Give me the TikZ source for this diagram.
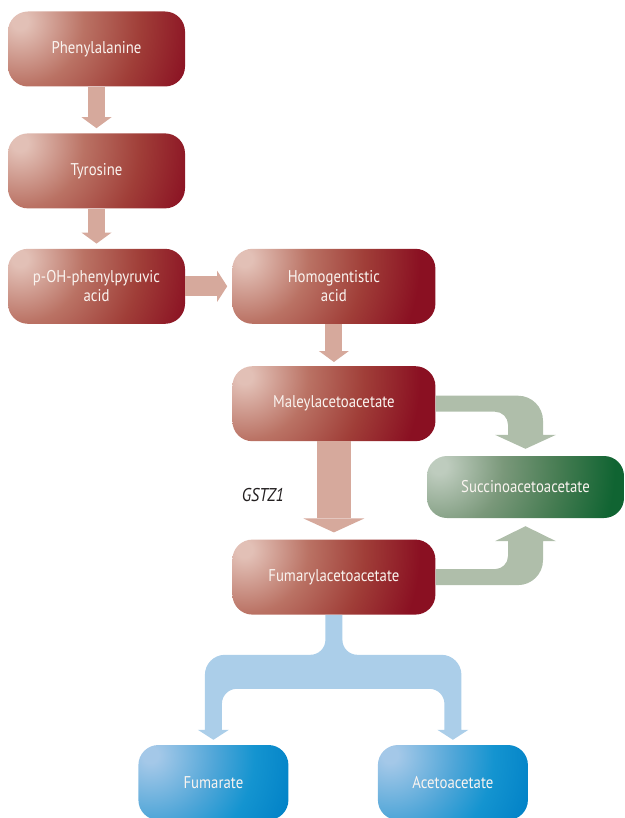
\documentclass[tikz,border=0pt]{standalone}
\usepackage{fontspec}
\setmainfont{PT Sans}[FakeStretch=0.87]
\usetikzlibrary{positioning,calc,arrows.meta}

\definecolor{redlight}{RGB}{226,192,182}
\definecolor{redmid}{RGB}{186,114,100}
\definecolor{redmore}{RGB}{160,62,56}
\definecolor{reddark}{RGB}{138,16,34}
\definecolor{greenlight}{RGB}{190,204,190}
\definecolor{greenmid}{RGB}{122,152,122}
\definecolor{greenmore}{RGB}{70,124,82}
\definecolor{greendark}{RGB}{16,100,50}
\definecolor{bluelight}{RGB}{164,200,232}
\definecolor{bluemid}{RGB}{80,166,216}
\definecolor{bluemore}{RGB}{20,148,208}
\definecolor{bluedark}{RGB}{0,128,198}
\definecolor{arrowred}{RGB}{214,169,156}
\definecolor{arrowgreen}{RGB}{175,190,170}
\definecolor{arrowblue}{RGB}{171,206,233}
\definecolor{boxtext}{RGB}{250,244,240}
\definecolor{enzymetext}{RGB}{35,31,32}

\pgfdeclareradialshading{redshade}{\pgfpoint{0bp}{0bp}}{color(0bp)=(redlight); color(1bp)=(redlight); color(8bp)=(redmid); color(15bp)=(redmore); color(22bp)=(reddark); color(50bp)=(reddark)}
\pgfdeclareradialshading{greenshade}{\pgfpoint{0bp}{0bp}}{color(0bp)=(greenlight); color(1bp)=(greenlight); color(8bp)=(greenmid); color(15bp)=(greenmore); color(22bp)=(greendark); color(50bp)=(greendark)}
\pgfdeclareradialshading{blueshade}{\pgfpoint{0bp}{0bp}}{color(0bp)=(bluelight); color(1bp)=(bluelight); color(8bp)=(bluemid); color(13bp)=(bluemore); color(19bp)=(bluedark); color(50bp)=(bluedark)}

\tikzset{
  glow/.style={path picture={\shade[shading=#1] ($(path picture bounding box.north west)+(12pt,-10pt)$) circle[radius=200pt];}},
  redbox/.style={rectangle, rounded corners=20pt, glow=redshade, minimum width=177pt, minimum height=75pt,
    inner sep=0pt, align=center, text=boxtext, font=\fontsize{17}{19}\selectfont},
  widebox/.style={redbox, minimum width=203pt},
  greenbox/.style={redbox, glow=greenshade, minimum width=197pt, minimum height=62pt},
  bluebox/.style={redbox, glow=blueshade, minimum width=150pt},
  enzyme/.style={text=enzymetext, font=\fontsize{18.5}{20}\selectfont\itshape},
  redarrow/.style={draw=arrowred, line width=17pt, -{Triangle[width=30pt,length=11pt,line width=0pt]}, shorten >=5pt},
  greenarrow/.style={fill=arrowgreen},
  bluearrow/.style={fill=arrowblue}
}

\begin{document}
\begin{tikzpicture}[x=1pt,y=1pt]
        \useasboundingbox (0,0) rectangle (624,-818);
        \node(phe) [redbox] at (96.5,-49) {Phenylalanine};
        \node(tyr) [redbox, below=46.5pt of phe] {Tyrosine};
        \node(poh) [redbox, below=40pt of tyr] {p-OH-phenylpyruvic\\acid};
        \node(hga) [widebox, right=47pt of poh] {Homogentistic\\acid};
        \node(mal) [widebox, below=42pt of hga] {Maleylacetoacetate};
        \node(fum) [widebox, below=98pt of mal] {Fumarylacetoacetate};
        \node(suc) [greenbox] at (525.5,-487) {Succinoacetoacetate};
        \node(fma) [bluebox, below=130pt of fum, xshift=-120.5pt] {Fumarate};
        \node(ace) [bluebox, below=130pt of fum, xshift=119pt] {Acetoacetate};
        \node(gstz) [enzyme] at ($(mal.south)!0.55!(fum.north)+(-71pt,0)$) {GSTZ1};
        \draw[redarrow] (phe) -- (tyr);
        \draw[redarrow] (tyr) -- (poh);
        \draw[redarrow, line width=20pt, -{Triangle[width=31pt,length=10pt,line width=0pt]}] (poh) -- (hga);
        \draw[redarrow, shorten >=4pt] (hga) -- (mal);
        \draw[redarrow, line width=34pt, -{Triangle[width=61pt,length=14pt,line width=0pt]}, shorten >=7pt] (mal) -- (fum);
        \fill[greenarrow] let \p1=(mal.east), \p2=(suc.north) in
          (\x1,\y1+8pt) -- (\x2-7.5pt,\y1+8pt) arc[start angle=90,end angle=0,radius=25pt]
          -- (\x2+17.5pt,\y2+21pt) -- (\x2+30.5pt,\y2+21pt) -- (\x2,\y2+7pt)
          -- (\x2-30.5pt,\y2+21pt) -- (\x2-17.5pt,\y2+21pt)
          -- (\x2-17.5pt,\y1-21pt) arc[start angle=0,end angle=90,radius=13pt]
          -- (\x1,\y1-8pt) -- cycle;
        \fill[greenarrow] let \p1=(fum.east), \p2=(suc.south) in
          (\x1,\y1-8pt) -- (\x2-7.5pt,\y1-8pt) arc[start angle=-90,end angle=0,radius=25pt]
          -- (\x2+17.5pt,\y2-23pt) -- (\x2+30.5pt,\y2-23pt) -- (\x2,\y2-8pt)
          -- (\x2-30.5pt,\y2-23pt) -- (\x2-17.5pt,\y2-23pt)
          -- (\x2-17.5pt,\y1+21pt) arc[start angle=0,end angle=-90,radius=13pt]
          -- (\x1,\y1+8pt) -- cycle;
        \fill[bluearrow] let \p1=(fum.south), \p2=(fma.north), \p3=(ace.north) in
          (\x1-8.5pt,\y1) -- (\x1-8.5pt,\y1-25pt) arc[start angle=0,end angle=-90,radius=15pt]
          -- (\x2+11.5pt,\y1-40pt) arc[start angle=90,end angle=180,radius=20pt]
          -- (\x2-8.5pt,\y2+15pt) -- (\x2-15.5pt,\y2+15pt) -- (\x2,\y2+5pt)
          -- (\x2+15.5pt,\y2+15pt) -- (\x2+8.5pt,\y2+15pt)
          -- (\x2+8.5pt,\y1-89pt) arc[start angle=180,end angle=90,radius=15pt]
          -- (\x3-23.5pt,\y1-74pt) arc[start angle=90,end angle=0,radius=15pt]
          -- (\x3-8.5pt,\y3+15pt) -- (\x3-15.5pt,\y3+15pt) -- (\x3,\y3+5pt)
          -- (\x3+15.5pt,\y3+15pt) -- (\x3+8.5pt,\y3+15pt)
          -- (\x3+8.5pt,\y1-60pt) arc[start angle=0,end angle=90,radius=20pt]
          -- (\x1+23.5pt,\y1-40pt) arc[start angle=-90,end angle=-180,radius=15pt]
          -- (\x1+8.5pt,\y1) -- cycle;
    \end{tikzpicture}
\end{document}
